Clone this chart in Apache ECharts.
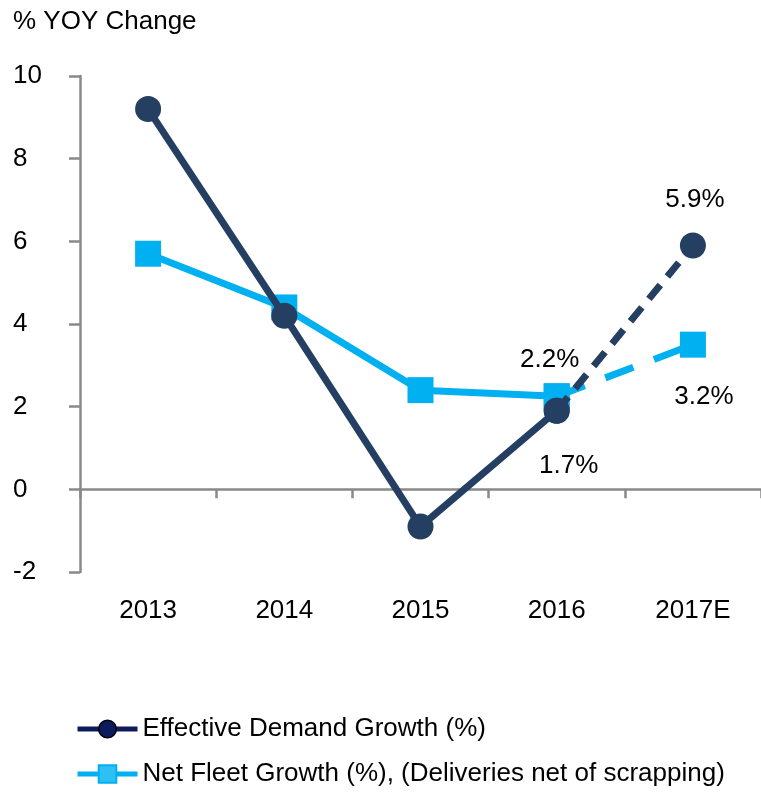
<!DOCTYPE html>
<html>
<head>
<meta charset="utf-8">
<script src="https://cdn.jsdelivr.net/npm/echarts@6/dist/echarts.min.js"></script>
<style>
html, body { margin: 0; padding: 0; background: #fff; }
#chart { width: 761px; height: 792px; }
</style>
</head>
<body>
<div id="chart"></div>
<script>
var years = ['2013', '2014', '2015', '2016', '2017E'];
var demand = [9.2, 4.2, -0.9, 1.9, 5.9];
var fleet = [5.7, 4.4, 2.4, 2.25, 3.5];
// labels printed on the chart (as they appear, not always equal to the point)
var demandLabels = [null, null, null, '1.7%', '5.9%'];
var fleetLabels = [null, null, null, '2.2%', '3.2%'];

var demandName = 'Effective Demand Growth (%)';
var fleetName = 'Net Fleet Growth (%), (Deliveries net of scrapping)';
var navy = '#253f63';
var cyan = '#00b0f0';
var font = 'Liberation Sans, Arial, sans-serif';

function solidPart(arr) {
    return arr.map(function (v, i) { return i <= 3 ? v : '-'; });
}
function labelled(arr, labels, offsets) {
    return arr.map(function (v, i) {
        if (i < 3) return '-';
        var item = { value: v };
        if (labels[i]) {
            item.label = { show: true, formatter: labels[i], offset: offsets[i], position: 'inside' };
        }
        return item;
    });
}

var el = document.getElementById('chart');
var myChart = echarts.init(el);

var option = {
    animation: false,
    textStyle: { fontFamily: font },
    title: {
        text: '% YOY Change',
        left: 8,
        top: 4,
        textStyle: { fontSize: 26, fontWeight: 'normal', color: '#000', fontFamily: font }
    },
    grid: { left: 80, top: 76, width: 683, height: 496 },
    legend: {
        orient: 'vertical',
        left: 75,
        top: 716,
        padding: 0,
        itemGap: 19,
        itemWidth: 60,
        itemHeight: 22,
        data: [
            { name: demandName, itemStyle: { color: '#0c1b5c', borderColor: '#000', borderWidth: 1.5 }, lineStyle: { color: '#0c1b5c', width: 5 } },
            { name: fleetName, itemStyle: { color: '#2ec0f5', borderColor: cyan, borderWidth: 2 }, lineStyle: { color: cyan, width: 5 } }
        ],
        textStyle: { fontSize: 26, color: '#000', fontFamily: font }
    },
    xAxis: [{
        type: 'category',
        data: years,
        axisLine: { onZero: true, lineStyle: { color: '#898989', width: 2.5 } },
        axisTick: { show: true, length: 9, lineStyle: { color: '#898989', width: 2.5 } },
        axisLabel: { show: false }
    }, {
        type: 'category',
        data: years,
        position: 'bottom',
        axisLine: { show: false },
        axisTick: { show: false },
        axisLabel: { margin: 26, fontSize: 26, color: '#000', fontFamily: font }
    }],
    yAxis: {
        type: 'value',
        min: -2,
        max: 10,
        interval: 2,
        splitLine: { show: false },
        axisLine: { show: true, lineStyle: { color: '#898989', width: 2.5 } },
        axisTick: { show: true, length: 11, lineStyle: { color: '#898989', width: 2.5 } },
        axisLabel: { align: 'left', margin: 67, fontSize: 26, color: '#000', fontFamily: font }
    },
    series: [{
        name: fleetName,
        type: 'line',
        data: solidPart(fleet),
        symbol: 'rect',
        symbolSize: 26,
        color: cyan,
        lineStyle: { width: 7, color: cyan },
        itemStyle: { color: cyan },
        z: 2
    }, {
        name: 'fleetEst',
        type: 'line',
        data: labelled(fleet, fleetLabels, [null, null, null, [-7, -37], [11, 52]]),
        symbol: 'rect',
        symbolSize: 26,
        lineStyle: { width: 7, color: cyan, type: [30, 22] },
        itemStyle: { color: cyan },
        label: { fontSize: 26, color: '#000', fontFamily: font },
        z: 2
    }, {
        name: demandName,
        type: 'line',
        data: solidPart(demand),
        symbol: 'circle',
        symbolSize: 26,
        color: navy,
        lineStyle: { width: 7, color: navy },
        itemStyle: { color: navy },
        z: 3
    }, {
        name: 'demandEst',
        type: 'line',
        data: labelled(demand, demandLabels, [null, null, null, [12, 55], [2, -46]]),
        symbol: 'circle',
        symbolSize: 26,
        lineStyle: { width: 7, color: navy, type: [18, 11] },
        itemStyle: { color: navy },
        label: { fontSize: 26, color: '#000', fontFamily: font },
        z: 3
    }]
};
myChart.setOption(option);
</script>
</body>
</html>
